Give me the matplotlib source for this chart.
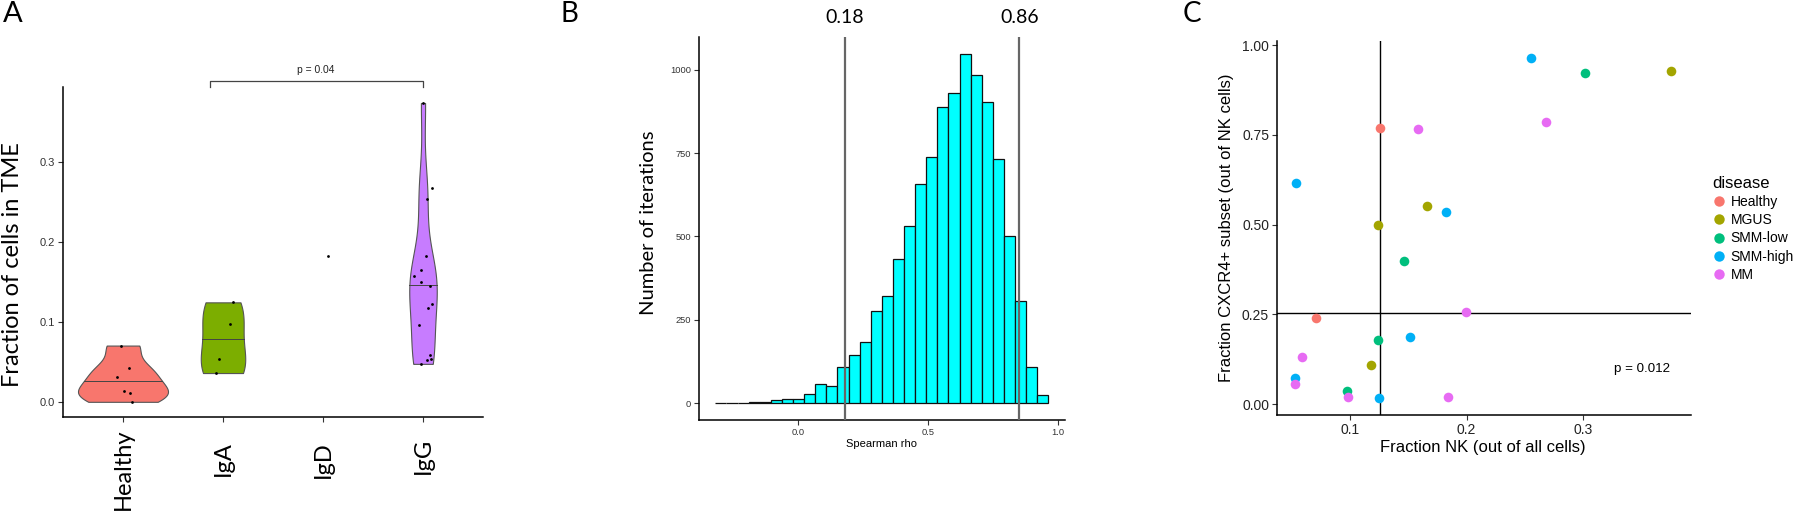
import numpy as np
import matplotlib
matplotlib.use("Agg")
import matplotlib.pyplot as plt
from matplotlib.lines import Line2D

# ---- panel A: fraction of cells in TME per isotype ----
groups = ["Healthy", "IgA", "IgD", "IgG"]
group_colors = ["#F8766D", "#7CAE00", "#00BFC4", "#C77CFF"]
healthy_vals = [0.0704, 0.0425, 0.031, 0.0133, 0.011, 0.0]
healthy_jit = [-0.023, 0.06, -0.06, 0.01, 0.074, 0.09]
iga_vals = [0.1245, 0.098, 0.053, 0.036]
iga_jit = [0.097, 0.067, -0.044, -0.067]
igd_vals = [0.183]
igd_jit = [0.05]
igg_vals = [0.374, 0.2675, 0.254, 0.182, 0.165, 0.1575, 0.150, 0.145,
            0.123, 0.117, 0.096, 0.058, 0.052, 0.053, 0.0475]
igg_jit = [-0.003, 0.094, 0.04, 0.034, -0.016, -0.09, -0.016, 0.07,
           0.094, 0.047, -0.036, 0.07, 0.04, 0.077, -0.016]
p_text_a = "p = 0.04"

# ---- panel B: spearman rho bootstrap histogram ----
rho_counts = [1, 1, 1, 3, 4, 9, 13, 11, 28, 56, 51, 107, 145, 184, 276,
              320, 432, 533, 657, 738, 890, 932, 1047, 986, 904, 733, 501,
              305, 108, 24]
rho_start = -0.319
rho_binwidth = 0.0427
ci_pos = [0.18, 0.85]
ci_labels = ["0.18", "0.86"]

# ---- panel C: NK fraction vs CXCR4+ subset ----
diseases = ["Healthy", "MGUS", "SMM-low", "SMM-high", "MM"]
disease_colors = ["#F8766D", "#A3A500", "#00BF7D", "#00B0F6", "#E76BF3"]
nk_healthy = [0.1254, 0.0706]
cx_healthy = [0.769, 0.240]
nk_mgus = [0.1243, 0.1660, 0.1177, 0.3754]
cx_mgus = [0.499, 0.553, 0.109, 0.927]
nk_smmlow = [0.146, 0.1243, 0.0971, 0.3011]
cx_smmlow = [0.400, 0.180, 0.038, 0.923]
nk_smmhigh = [0.2549, 0.0537, 0.1826, 0.1514, 0.0529, 0.1246]
cx_smmhigh = [0.965, 0.615, 0.536, 0.186, 0.074, 0.0175]
nk_mm = [0.1586, 0.268, 0.1994, 0.0586, 0.0529, 0.0986, 0.1838]
cx_mm = [0.767, 0.785, 0.256, 0.131, 0.0565, 0.0195, 0.0195]
nk_cut = 0.1254
cx_cut = 0.255
p_text_c = "p = 0.012"

big_font = "Lato"
small_font = "Liberation Sans"
W, H = 1800, 515

fig = plt.figure(figsize=(18, 5.15), dpi=100)


def px_axes(left, top, right, bottom):
    return fig.add_axes([left / W, 1 - bottom / H, (right - left) / W, (bottom - top) / H])


def classic(ax, tick_size, tick_color="#333333"):
    for s in ["top", "right"]:
        ax.spines[s].set_visible(False)
    for s in ["left", "bottom"]:
        ax.spines[s].set_linewidth(1.1)
        ax.spines[s].set_color("black")
    ax.tick_params(length=3.5, width=0.8, color="#333333", labelsize=tick_size,
                   labelcolor=tick_color, pad=2)
    for lab in ax.get_xticklabels() + ax.get_yticklabels():
        lab.set_family(small_font)


def nrd0_density(vals, n=512):
    v = np.asarray(vals, dtype=float)
    q75, q25 = np.percentile(v, [75, 25])
    bw = 0.9 * min(v.std(ddof=1), (q75 - q25) / 1.34) * len(v) ** -0.2
    grid = np.linspace(v.min(), v.max(), n)
    z = (grid[:, None] - v[None, :]) / bw
    dens = np.exp(-0.5 * z ** 2).sum(axis=1) / (len(v) * bw * np.sqrt(2 * np.pi))
    return grid, dens


# ================= A =================
ax_a = px_axes(63, 87, 483, 417)
all_vals = [healthy_vals, iga_vals, igd_vals, igg_vals]
all_jit = [healthy_jit, iga_jit, igd_jit, igg_jit]

dens_list = []
for vals in all_vals:
    if len(vals) > 1:
        dens_list.append(nrd0_density(vals))
    else:
        dens_list.append(None)
dmax = max(d[1].max() for d in dens_list if d is not None)

for i, d in enumerate(dens_list):
    xc = i + 1
    if d is not None:
        grid, dens = d
        half = 0.45 * dens / dmax
        ax_a.fill_betweenx(grid, xc - half, xc + half, facecolor=group_colors[i],
                           edgecolor="#555555", linewidth=0.8, zorder=2)
        cdf = np.cumsum(dens) / dens.sum()
        med = np.interp(0.5, cdf, grid)
        hw = np.interp(med, grid, half)
        ax_a.plot([xc - hw, xc + hw], [med, med], color="#444444", lw=0.7, zorder=3)
    ax_a.scatter(xc + np.array(all_jit[i]), all_vals[i], s=4, color="black",
                 zorder=4, linewidths=0)

ax_a.set_xlim(0.4, 4.6)
ax_a.set_ylim(-0.019, 0.394)
ax_a.set_yticks([0.0, 0.1, 0.2, 0.3])
ax_a.set_yticklabels(["0.0", "0.1", "0.2", "0.3"])
ax_a.set_xticks([1, 2, 3, 4])
ax_a.set_xticklabels([])
classic(ax_a, 8)

label_drop = [11, 24, 24, 21]
for i, name in enumerate(groups):
    ax_a.annotate(name, xy=(i + 1, 0), xycoords=("data", "axes fraction"),
                  xytext=(0, -label_drop[i]), textcoords="offset pixels",
                  rotation=90, ha="center", va="top", fontsize=17,
                  family=big_font)

ax_a.set_ylabel("Fraction of cells in TME", fontsize=17, family=big_font, va="center")
ax_a.yaxis.set_label_coords((12 - 63) / 420, (417 - 265) / 330)

# significance bracket
ax_a.plot([1.867, 1.867, 4.0, 4.0], [0.3945, 0.402, 0.402, 0.3945],
          color="#444444", lw=0.9, clip_on=False)
ax_a.text(2.923, 0.415, p_text_a, ha="center", va="center", fontsize=7.4,
          family=small_font, color="#222222")

fig.text(13 / W, 1 - 14 / H, "A", fontsize=21, family=big_font, ha="center", va="center")

# ================= B =================
ax_b = px_axes(698.7, 37, 1065, 420)
edges = rho_start + rho_binwidth * np.arange(len(rho_counts))
ax_b.bar(edges, rho_counts, width=rho_binwidth, align="edge", color="#00FFFF",
         edgecolor="#111111", linewidth=0.9, zorder=2)
for xv, lab in zip(ci_pos, ci_labels):
    ax_b.axvline(xv, color="#666666", lw=1.6, zorder=3)
    ax_b.text(xv, 1.05, lab, transform=ax_b.get_xaxis_transform(), ha="center",
              va="center", fontsize=14, family=big_font)
ax_b.set_xlim(-0.383, 1.026)
ax_b.set_ylim(-51, 1099)
ax_b.set_xticks([0.0, 0.5, 1.0])
ax_b.set_xticklabels(["0.0", "0.5", "1.0"])
ax_b.set_yticks([0, 250, 500, 750, 1000])
ax_b.set_yticklabels(["0", "250", "500", "750", "1000"])
classic(ax_b, 6.7)
ax_b.set_xlabel("Spearman rho", fontsize=8, family=small_font, va="center")
ax_b.xaxis.set_label_coords(0.4996, -0.0627)
ax_b.set_ylabel("Number of iterations", fontsize=14.5, family=big_font, va="center")
ax_b.yaxis.set_label_coords(-0.1357, 0.514)

fig.text(569 / W, 1 - 14 / H, "B", fontsize=20, family=big_font, ha="center", va="center")

# ================= C =================
ax_c = px_axes(1276.7, 40.7, 1691, 415)
xs = [nk_healthy, nk_mgus, nk_smmlow, nk_smmhigh, nk_mm]
ys = [cx_healthy, cx_mgus, cx_smmlow, cx_smmhigh, cx_mm]
for xv, yv, col in zip(xs, ys, disease_colors):
    ax_c.scatter(xv, yv, s=48, color=col, linewidths=0, zorder=3)
ax_c.axvline(nk_cut, color="black", lw=1.0, zorder=2)
ax_c.axhline(cx_cut, color="black", lw=1.0, zorder=2)
ax_c.set_xlim(0.0372, 0.3923)
ax_c.set_ylim(-0.0298, 1.012)
ax_c.set_xticks([0.1, 0.2, 0.3])
ax_c.set_xticklabels(["0.1", "0.2", "0.3"])
ax_c.set_yticks([0.0, 0.25, 0.5, 0.75, 1.0])
ax_c.set_yticklabels(["0.00", "0.25", "0.50", "0.75", "1.00"])
classic(ax_c, 10, tick_color="#222222")
ax_c.set_xlabel("Fraction NK (out of all cells)", fontsize=12, family=small_font, va="center")
ax_c.xaxis.set_label_coords(0.498, -0.088)
ax_c.set_ylabel("Fraction CXCR4+ subset (out of NK cells)", fontsize=12,
                family=small_font, va="center")
ax_c.yaxis.set_label_coords(-0.1207, 0.501)
ax_c.text(0.3505, 0.0974, p_text_c, ha="center", va="center", fontsize=9.6,
          family=small_font)

handles = [Line2D([], [], marker="o", linestyle="none", markersize=7.5,
                  markerfacecolor=c, markeredgewidth=0) for c in disease_colors]
leg = ax_c.legend(handles, diseases, title="disease", loc="upper left",
                  bbox_to_anchor=(1712 / W, 1 - 176 / H), bbox_transform=fig.transFigure,
                  frameon=False, borderpad=0, borderaxespad=0, handlelength=1.0,
                  handletextpad=0.35, labelspacing=0.3,
                  prop={"family": small_font, "size": 10},
                  title_fontproperties={"family": small_font, "size": 12},
                  alignment="left")

fig.text(1192 / W, 1 - 14 / H, "C", fontsize=20, family=big_font, ha="center", va="center")

fig.savefig("out.png", dpi=100)
